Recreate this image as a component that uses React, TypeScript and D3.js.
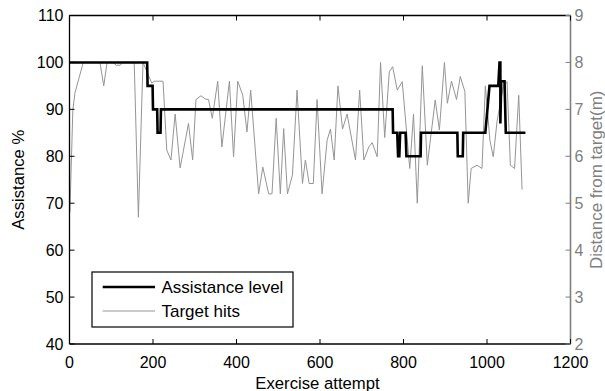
import React from "react";
import * as d3 from "d3";

const xTicks = [0, 200, 400, 600, 800, 1000, 1200];
const leftTicks = [40, 50, 60, 70, 80, 90, 100, 110];
const rightTicks = [2, 3, 4, 5, 6, 7, 8, 9];

// Assistance level (%) polyline vertices
const assistAttempt = [0, 186, 187, 199, 200, 210, 211, 218, 219, 774, 775, 785, 787, 790, 792, 805, 807, 841, 842, 929, 930, 942, 943, 996, 1006, 1027, 1030, 1032, 1032, 1034, 1042, 1045, 1092];
const assistLevel = [100, 100, 95, 95, 90, 90, 85, 85, 90, 90, 85, 85, 80, 80, 85, 85, 80, 80, 85, 85, 80, 80, 85, 85, 95, 95, 100, 100, 87, 96, 96, 85, 85];

// Target hits: distance from target (m)
const hitAttempt = [1, 8, 13, 33, 73, 82, 90, 104, 112, 121, 128, 155, 165, 176, 197, 203, 224, 233, 243, 253, 265, 285, 295, 303, 315, 325, 333, 342, 355, 365, 383, 393, 403, 415, 425, 434, 445, 453, 463, 477, 485, 495, 505, 513, 522, 534, 545, 558, 565, 574, 584, 593, 605, 617, 625, 634, 643, 654, 665, 685, 695, 705, 717, 725, 737, 745, 755, 766, 774, 785, 797, 815, 824, 833, 845, 857, 876, 886, 898, 905, 915, 927, 936, 947, 955, 962, 976, 988, 996, 1007, 1015, 1024, 1039, 1048, 1056, 1066, 1076, 1084];
const hitDistance = [4.81, 6.98, 7.35, 8.0, 8.0, 7.5, 8.0, 8.0, 7.94, 7.94, 8.0, 8.0, 4.7, 8.0, 7.56, 7.6, 7.6, 6.13, 5.92, 6.9, 5.75, 6.7, 5.92, 7.21, 7.29, 7.22, 7.21, 6.81, 7.6, 6.2, 7.6, 5.99, 7.6, 7.3, 6.52, 7.41, 6.13, 5.2, 5.77, 5.2, 5.2, 6.81, 5.2, 6.59, 5.2, 5.6, 7.41, 5.42, 5.92, 5.42, 5.42, 7.21, 5.2, 6.34, 6.58, 5.92, 7.5, 6.58, 6.9, 5.92, 7.41, 5.92, 6.2, 6.29, 5.99, 8.0, 6.4, 7.8, 7.91, 7.41, 7.59, 5.74, 6.9, 5.0, 7.93, 5.81, 7.2, 6.56, 8.0, 7.13, 7.6, 7.21, 7.7, 7.38, 5.0, 5.74, 5.81, 5.74, 7.5, 6.34, 5.99, 6.74, 7.49, 7.59, 5.81, 5.74, 7.3, 5.29];

const W = 605;
const H = 391;
const L = 69.5, R = 570.5, T = 15.5, B = 344;
const FONT = "'Liberation Sans', Arial, Helvetica, sans-serif";
const GRAY = "#7f7f7f";

export default function App() {
  const x = d3.scaleLinear().domain([0, 1200]).range([L, R]);
  const yL = d3.scaleLinear().domain([40, 110]).range([B, T]);
  const yR = d3.scaleLinear().domain([2, 9]).range([B, T]);

  const assistPts = assistAttempt.map((a, i) => [a, assistLevel[i]] as [number, number]);
  const hitPts = hitAttempt.map((a, i) => [a, hitDistance[i]] as [number, number]);

  const assistLine = d3.line<[number, number]>().x(d => x(d[0])).y(d => yL(d[1]))(assistPts) || "";
  const hitLine = d3.line<[number, number]>().x(d => x(d[0])).y(d => yR(d[1]))(hitPts) || "";

  const tk = 5;

  return (
    <svg width={W} height={H} style={{ position: "absolute", left: 0, top: 0, background: "#fff" }} fontFamily={FONT}>
      <rect x={0} y={0} width={W} height={H} fill="#fff" />
      {/* data */}
      <path d={hitLine} fill="none" stroke="#959595" strokeWidth={1} />
      <path d={assistLine} fill="none" stroke="#000" strokeWidth={2.6} strokeLinejoin="miter" />

      {/* axes box */}
      <line x1={L} x2={R} y1={T} y2={T} stroke="#000" strokeWidth={1.3} />
      <line x1={L} x2={R} y1={B} y2={B} stroke="#000" strokeWidth={1.3} />
      <line x1={L} x2={L} y1={T} y2={B} stroke="#000" strokeWidth={1.3} />
      <line x1={R} x2={R} y1={T} y2={B} stroke={GRAY} strokeWidth={1.6} />

      {/* x ticks */}
      {xTicks.map(t => (
        <g key={"x" + t}>
          <line x1={x(t)} x2={x(t)} y1={B} y2={B - tk} stroke="#000" strokeWidth={1} />
          <line x1={x(t)} x2={x(t)} y1={T} y2={T + tk} stroke="#000" strokeWidth={1} />
          <text x={x(t)} y={367.5} fontSize={16} textAnchor="middle" fill="#000">{t}</text>
        </g>
      ))}
      {/* left ticks */}
      {leftTicks.map(t => (
        <g key={"l" + t}>
          <line x1={L} x2={L + tk} y1={yL(t)} y2={yL(t)} stroke="#000" strokeWidth={1} />
          <text x={63.5} y={yL(t)} dy="0.36em" fontSize={16} textAnchor="end" fill="#000">{t}</text>
        </g>
      ))}
      {/* right ticks */}
      {rightTicks.map(t => (
        <g key={"r" + t}>
          <line x1={R} x2={R - tk} y1={yR(t)} y2={yR(t)} stroke={GRAY} strokeWidth={1} />
          <text x={574.5} y={yR(t)} dy="0.36em" fontSize={16} textAnchor="start" fill={GRAY}>{t}</text>
        </g>
      ))}

      {/* axis labels */}
      <text x={317.5} y={388.5} fontSize={16.7} textAnchor="middle" fill="#000">Exercise attempt</text>
      <text transform={`translate(24,${(T + B) / 2}) rotate(-90)`} fontSize={16.7} textAnchor="middle" fill="#000">Assistance %</text>
      <text transform={`translate(601.5,${(T + B) / 2}) rotate(-90)`} fontSize={17} textAnchor="middle" fill={GRAY}>Distance from target(m)</text>

      {/* legend */}
      <rect x={92} y={272} width={201} height={55} fill="#fff" stroke="#000" strokeWidth={1.2} />
      <line x1={102.7} x2={155} y1={287} y2={287} stroke="#000" strokeWidth={2.6} />
      <text x={161.5} y={292.8} fontSize={17} fill="#000">Assistance level</text>
      <line x1={102.7} x2={155} y1={311} y2={311} stroke="#959595" strokeWidth={1} />
      <text x={161.5} y={316.8} fontSize={17} fill="#000">Target hits</text>
    </svg>
  );
}
